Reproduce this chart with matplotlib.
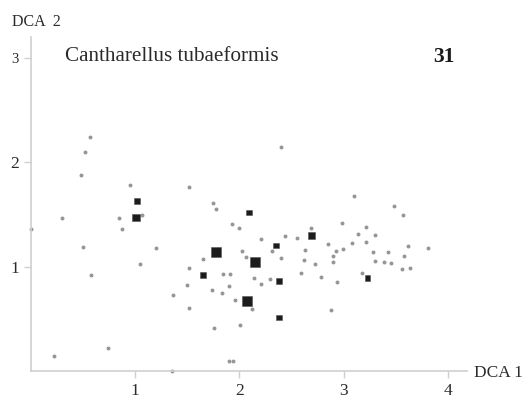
import numpy as np
import matplotlib.pyplot as plt

plt.rcParams['font.family'] = ['Liberation Serif', 'DejaVu Serif']

# sample plots (grey dots): DCA axis 1 and axis 2 scores
plot_x = [0.57, 0.52, 0.48, 0.95, 1.07, 0.30, 0.85, 0.00, 0.87, 0.50,
          1.20, 2.40, 1.52, 1.75, 1.78, 1.93, 2.00, 2.21, 2.44, 2.55,
          3.10, 3.48, 3.57, 2.98, 3.21, 2.69, 3.14, 3.30, 2.85, 3.08,
          3.21, 3.62, 3.81, 2.99, 0.58, 1.05, 0.74, 0.22, 1.35, 2.03,
          2.31, 2.06, 2.40, 1.65, 2.62, 1.52, 1.84, 1.91, 2.59, 2.14,
          2.29, 2.21, 1.50, 1.90, 1.74, 1.83, 1.36, 1.96, 2.12, 1.52,
          1.76, 2.01, 1.90, 1.94, 2.63, 2.93, 3.28, 3.43, 3.58, 2.90,
          2.90, 2.73, 3.30, 3.39, 3.45, 3.56, 3.64, 2.78, 2.94, 3.18,
          2.88]
plot_y = [2.24, 2.10, 1.88, 1.78, 1.49, 1.47, 1.47, 1.36, 1.36, 1.19,
          1.18, 2.15, 1.76, 1.61, 1.55, 1.41, 1.37, 1.26, 1.29, 1.27,
          1.68, 1.58, 1.49, 1.42, 1.38, 1.37, 1.31, 1.30, 1.22, 1.23,
          1.24, 1.20, 1.18, 1.17, 0.92, 1.02, 0.22, 0.14, 0.00, 1.15,
          1.15, 1.09, 1.08, 1.07, 1.06, 0.99, 0.93, 0.93, 0.94, 0.89,
          0.88, 0.83, 0.82, 0.81, 0.77, 0.75, 0.73, 0.68, 0.59, 0.60,
          0.41, 0.44, 0.09, 0.09, 1.16, 1.15, 1.14, 1.14, 1.10, 1.10,
          1.04, 1.02, 1.05, 1.04, 1.03, 0.98, 0.99, 0.90, 0.85, 0.94,
          0.58]

# plots where the species was found, with abundance class
found_x = [1.02, 1.01, 2.09, 1.78, 2.15, 1.65, 2.38, 2.07, 2.38, 2.35, 2.69, 3.23]
found_y = [1.63, 1.47, 1.52, 1.14, 1.04, 0.92, 0.86, 0.67, 0.51, 1.20, 1.30, 0.89]
abundance = [1, 2, 1, 3, 3, 1, 1, 3, 1, 1, 2, 1]

species = "Cantharellus tubaeformis"
panel = "31"

W, H = 524, 404
fig = plt.figure(figsize=(W / 100, H / 100), dpi=100)
ax = fig.add_axes([30.8 / W, 1 - 370.7 / H, 435.9 / W, 333.4 / H])

ax.scatter(plot_x, plot_y, s=8, marker='o', color='#969696',
           linewidths=0, clip_on=False, zorder=2)

side_px = {1: 5.5, 2: 7.5, 3: 10.0}
sizes = [(side_px[a] * 0.72) ** 2 for a in abundance]
ax.scatter(found_x, found_y, s=sizes, marker='s', color='#1c1c1c',
           edgecolors='#555555', linewidths=0.4, clip_on=False, zorder=3)

ax.set_xlim(0, 4.18)
ax.set_ylim(0, 3.2)
ax.set_xticks([1, 2, 3, 4])
ax.set_yticks([1, 2, 3])
for s in ['top', 'right']:
    ax.spines[s].set_visible(False)
for s in ['left', 'bottom']:
    ax.spines[s].set_color('#cfcfcf')
    ax.spines[s].set_linewidth(1.2)
ax.tick_params(axis='both', direction='out', length=5, width=1,
               color='#cfcfcf', labelcolor='#2a2a2a', labelsize=12.5)
ax.tick_params(axis='x', pad=4)
ax.tick_params(axis='y', pad=3.5)
ax.get_yticklabels()[2].set_fontsize(10.5)

fig.text(11.7 / W, 1 - 21.7 / H, "DCA  2", fontsize=11.5, color='#2a2a2a',
         ha='left', va='center')
fig.text(474 / W, 1 - 372.7 / H, "DCA 1", fontsize=12.5, color='#2a2a2a',
         ha='left', va='center')
fig.text(65 / W, 1 - 56.7 / H, species, fontsize=15.2, color='#2a2a2a',
         ha='left', va='center')
fig.text(433 / W, 1 - 57 / H, panel, fontsize=15.5, fontweight='bold',
         color='#1a1a1a', ha='left', va='center')

fig.savefig('out.png', dpi=100)
